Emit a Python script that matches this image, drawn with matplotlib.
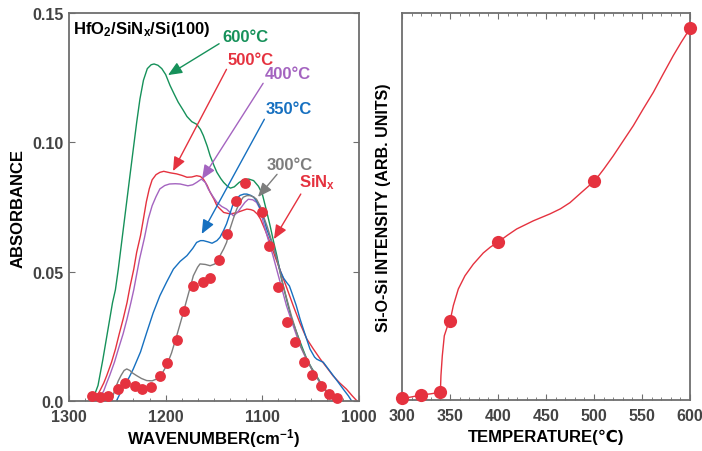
import matplotlib
matplotlib.use('Agg')
import matplotlib.pyplot as plt
from matplotlib.ticker import MultipleLocator, AutoMinorLocator

plt.rcParams['font.family'] = ['Liberation Sans', 'DejaVu Sans']
plt.rcParams['font.weight'] = 'bold'
plt.rcParams['axes.labelweight'] = 'bold'
plt.rcParams['mathtext.fontset'] = 'custom'
plt.rcParams['mathtext.rm'] = 'Liberation Sans:bold'
plt.rcParams['mathtext.it'] = 'Liberation Sans:bold'
plt.rcParams['mathtext.bf'] = 'Liberation Sans:bold'

# --- left panel: FTIR spectra (wavenumber, absorbance) ---
w600 = [1277, 1274, 1270, 1265, 1260, 1255, 1252, 1249, 1246, 1243, 1240, 1237, 1233.5, 1230,
        1226.6, 1223, 1219, 1215, 1212, 1208, 1204, 1200, 1195.5, 1191, 1187, 1182, 1178, 1173,
        1168, 1164, 1161, 1157, 1154, 1150, 1147, 1143, 1140, 1136, 1133, 1129, 1124, 1119, 1114,
        1109, 1104, 1100, 1096, 1092, 1088, 1085, 1080, 1075, 1070, 1064.5, 1059, 1054, 1049, 1044,
        1038, 1033, 1026]
a600 = [0.0, 0.002, 0.006, 0.016, 0.027, 0.038, 0.043, 0.051, 0.060, 0.069, 0.078, 0.087, 0.0974,
        0.1077, 0.1168, 0.1240, 0.1285, 0.1300, 0.1303, 0.1298, 0.1285, 0.1262, 0.122, 0.1185,
        0.1155, 0.1125, 0.110, 0.108, 0.107, 0.105, 0.1026, 0.0985, 0.0948, 0.091, 0.0884, 0.086,
        0.0845, 0.083, 0.0823, 0.0828, 0.0845, 0.0856, 0.0858, 0.0852, 0.083, 0.080, 0.074, 0.0678,
        0.061, 0.0562, 0.047, 0.0394, 0.032, 0.0265, 0.021, 0.0162, 0.0128, 0.0098, 0.006, 0.0034,
        0.0]

w500 = [1275, 1271, 1268, 1264, 1261, 1256, 1252, 1248, 1244, 1240, 1237, 1233, 1230, 1226, 1223,
        1220, 1217, 1214, 1210, 1206, 1202, 1195, 1188.6, 1183, 1178, 1173, 1168, 1164, 1161, 1157,
        1154, 1150, 1147, 1143, 1140, 1133, 1126, 1120, 1116, 1112, 1109, 1105, 1102, 1097, 1092,
        1087, 1082, 1075, 1068, 1061, 1054, 1047, 1040, 1033, 1027, 1020, 1013, 1007, 1002]
a500 = [0.0, 0.002, 0.004, 0.007, 0.0098, 0.015, 0.020, 0.026, 0.0317, 0.038, 0.044, 0.051,
        0.0575, 0.064, 0.0704, 0.077, 0.082, 0.0855, 0.0875, 0.0884, 0.0888, 0.0882, 0.0878,
        0.0872, 0.0865, 0.0866, 0.0871, 0.0868, 0.0858, 0.0833, 0.0807, 0.078, 0.0755, 0.074,
        0.0729, 0.0723, 0.0729, 0.0737, 0.0742, 0.0740, 0.0736, 0.0722, 0.0704, 0.066, 0.0613,
        0.056, 0.051, 0.044, 0.0368, 0.030, 0.024, 0.020, 0.0162, 0.0128, 0.0098, 0.007, 0.0046,
        0.002, 0.0]

w400 = [1271, 1267, 1264, 1261, 1258, 1253, 1249, 1244, 1240, 1236, 1233, 1230, 1227, 1222, 1218,
        1214, 1210, 1206, 1201, 1196, 1190, 1185, 1177, 1172, 1168, 1163, 1159, 1156, 1151, 1147,
        1142, 1137, 1133, 1130, 1126, 1122, 1118, 1114.5, 1110, 1106, 1102, 1099, 1094, 1089, 1082,
        1075, 1068, 1061, 1054, 1047, 1040, 1033, 1026]
a400 = [0.0, 0.002, 0.004, 0.007, 0.0098, 0.015, 0.020, 0.026, 0.0317, 0.038, 0.043, 0.049,
        0.0549, 0.063, 0.0704, 0.0755, 0.079, 0.082, 0.0833, 0.0839, 0.0840, 0.0839, 0.0832,
        0.0836, 0.0845, 0.0858, 0.0845, 0.082, 0.079, 0.0768, 0.0752, 0.0742, 0.0728, 0.0716,
        0.0728, 0.0748, 0.0768, 0.078, 0.0778, 0.0768, 0.074, 0.069, 0.0625, 0.0562, 0.0465,
        0.0368, 0.029, 0.0214, 0.0158, 0.0111, 0.0068, 0.0034, 0.0]

w350 = [1251, 1247, 1243, 1238, 1233.5, 1226, 1219.6, 1213, 1206, 1199, 1192, 1185, 1178, 1172,
        1168, 1164, 1161, 1156, 1152, 1147, 1143.8, 1140, 1137, 1133, 1130, 1126, 1123, 1119, 1116,
        1112, 1109, 1105, 1102, 1098, 1095.5, 1092, 1088.7, 1085, 1081.7, 1078, 1075, 1072, 1069.6,
        1065, 1061, 1056, 1050.7, 1046, 1043.8, 1040, 1037, 1032, 1026.6, 1021, 1016.3, 1011, 1007.6]
a350 = [0.0, 0.003, 0.006, 0.009, 0.0124, 0.019, 0.0265, 0.034, 0.0407, 0.046, 0.051, 0.054,
        0.0562, 0.059, 0.0613, 0.0620, 0.062, 0.0615, 0.061, 0.062, 0.0633, 0.066, 0.0685, 0.073,
        0.0765, 0.0785, 0.0795, 0.0800, 0.0800, 0.0795, 0.0788, 0.0768, 0.0742, 0.070, 0.0665,
        0.063, 0.060, 0.055, 0.0505, 0.0475, 0.0459, 0.0445, 0.042, 0.037, 0.0317, 0.026, 0.0201,
        0.017, 0.0162, 0.0155, 0.015, 0.0125, 0.0098, 0.007, 0.0046, 0.002, 0.0]

w300 = [1256, 1252.4, 1249, 1246, 1243, 1240.3, 1237, 1235, 1230, 1225, 1219.6, 1214, 1209.3,
        1204, 1199, 1194, 1188.6, 1183, 1178, 1174, 1171.4, 1167, 1164.5, 1159, 1154, 1149, 1143.8,
        1140, 1137, 1133.5, 1130, 1126.5, 1123, 1119.7, 1116, 1112.8, 1109, 1106, 1102, 1099, 1095,
        1092, 1088, 1085, 1078, 1070, 1060, 1050, 1040, 1030, 1024]
a300 = [0.0, 0.0046, 0.0078, 0.010, 0.0118, 0.0124, 0.0118, 0.011, 0.0098, 0.0087, 0.0079,
        0.0078, 0.0085, 0.0105, 0.0137, 0.0185, 0.0252, 0.0325, 0.0394, 0.0448, 0.0484, 0.0517,
        0.053, 0.0528, 0.0523, 0.053, 0.0562, 0.0588, 0.0613, 0.0665, 0.0705, 0.0742, 0.077,
        0.0788, 0.0794, 0.0794, 0.0789, 0.078, 0.0752, 0.0716, 0.0675, 0.0639, 0.059, 0.055,
        0.044, 0.033, 0.021, 0.013, 0.007, 0.002, 0.0]

sinx_w = [1276.6, 1268, 1259.3, 1249, 1242, 1231.7, 1224.8, 1215.2, 1205.9, 1198.3, 1188.6,
          1180.7, 1171.4, 1161.7, 1154, 1144.5, 1137, 1127.3, 1118, 1100.7, 1092.8, 1083.5,
          1074.2, 1066.2, 1057, 1049, 1039.6, 1030.7, 1022.5]
sinx_a = [0.002, 0.0014, 0.0018, 0.0046, 0.007, 0.0059, 0.0046, 0.0053, 0.0095, 0.0146, 0.0237,
          0.0349, 0.0446, 0.0459, 0.0476, 0.0546, 0.0646, 0.0772, 0.0842, 0.0732, 0.0598, 0.044,
          0.0304, 0.0229, 0.015, 0.010, 0.0057, 0.0027, 0.001]

# --- right panel: Si-O-Si intensity vs anneal temperature ---
temp = [300, 320, 340, 350, 400, 500, 600]
intensity = [0.004, 0.013, 0.02, 0.203, 0.408, 0.567, 0.96]
# guide line
curve_t = [300, 310, 320, 330, 340, 340.6, 342, 344.1, 347, 350, 353.5, 358.7, 365.6, 374.3,
           384.7, 392, 400, 410, 419.5, 436.8, 454.2, 465, 475, 487.2, 495, 501, 510, 520.1, 530,
           541, 551, 561.8, 572, 582.6, 591, 600]
curve_v = [0.004, 0.008, 0.013, 0.016, 0.02, 0.063, 0.114, 0.166, 0.188, 0.203, 0.244, 0.287,
           0.321, 0.351, 0.38, 0.395, 0.408, 0.426, 0.442, 0.463, 0.481, 0.494, 0.51, 0.537, 0.554,
           0.567, 0.596, 0.631, 0.668, 0.709, 0.751, 0.795, 0.842, 0.89, 0.925, 0.96]

GREEN = '#16915a'
RED = '#e5323f'
PURPLE = '#a464c0'
BLUE = '#1670c0'
GREY = '#7d7d7d'
SPINE = '#6e6e6e'
TICKLBL = '#444444'

fig = plt.figure(figsize=(7.02, 4.52), dpi=100)

# Left panel
ax1 = fig.add_axes([0.0983, 0.1106, 0.4131, 0.8584])
lw = 1.0
ax1.plot(w600, a600, color=GREEN, lw=lw)
ax1.plot(w500, a500, color=RED, lw=lw)
ax1.plot(w400, a400, color=PURPLE, lw=lw)
ax1.plot(w350, a350, color=BLUE, lw=lw)
ax1.plot(w300, a300, color=GREY, lw=lw)
ax1.plot(sinx_w, sinx_a, 'o', color=RED, ms=7.8, mec='none', clip_on=False, zorder=5)

ax1.set_xlim(1300, 1000)
ax1.set_ylim(0, 0.15)
ax1.set_xticks([1300, 1200, 1100, 1000])
ax1.xaxis.set_minor_locator(AutoMinorLocator(6))
ax1.set_yticks([0, 0.05, 0.10, 0.15])
ax1.set_yticklabels(['0.0', '0.05', '0.10', '0.15'])
ax1.tick_params(which='both', direction='in', right=True, top=False,
                color=SPINE, labelcolor=TICKLBL, labelsize=11.5)
ax1.tick_params(axis='x', which='major', length=4, pad=6)
ax1.tick_params(axis='x', which='minor', length=2.5)
ax1.tick_params(axis='y', length=4, pad=4)
ax1.set_xlabel('WAVENUMBER(cm$^{-1}$)', fontsize=12, labelpad=1)
ax1.set_ylabel('ABSORBANCE', fontsize=12, labelpad=5)

ax1.text(0.015, 0.985, 'HfO$_2$/SiN$_x$/Si(100)', transform=ax1.transAxes,
         ha='left', va='top', fontsize=12, color='black')

# Labels with arrows
def _label(text, xy, xytext, color, relpos):
    ax1.annotate(text, xy=xy, xytext=xytext, ha='center', va='center',
                 fontsize=12, color=color,
                 arrowprops=dict(arrowstyle='-|>,head_length=0.7,head_width=0.3',
                                 color=color, lw=1.0, shrinkA=0, shrinkB=0, relpos=relpos))

_label('600°C', (1197.6, 0.126), (1118, 0.1411), GREEN, (0, 0.1))
_label('500°C', (1192.4, 0.0889), (1111.7, 0.1322), RED, (0, 0))
_label('400°C', (1162.4, 0.0858), (1073.5, 0.1268), PURPLE, (0, 0))
_label('350°C', (1162.7, 0.0646), (1072.4, 0.1129), BLUE, (0, 0))
_label('300°C', (1104.5, 0.0789), (1071.4, 0.0916), GREY, (0.27, 0))
_label('SiN$_x$', (1088, 0.0626), (1043.5, 0.0847), RED, (0.1, 0))

# Right panel
ax2 = fig.add_axes([0.5726, 0.1128, 0.4103, 0.8562])
ax2.plot(curve_t, curve_v, color=RED, lw=1.0)
ax2.plot(temp, intensity, 'o', color=RED, ms=9.5, mec='none', clip_on=False, zorder=5)
ax2.set_xlim(300, 600)
ax2.set_ylim(0, 1)
ax2.xaxis.set_major_locator(MultipleLocator(50))
ax2.xaxis.set_minor_locator(MultipleLocator(10))
ax2.set_yticks([])
ax2.tick_params(which='both', direction='in', top=True,
                color=SPINE, labelcolor=TICKLBL, labelsize=11.5)
ax2.tick_params(axis='x', which='major', length=4, pad=6)
ax2.tick_params(axis='x', which='minor', length=2.5)
ax2.set_xlabel('TEMPERATURE(℃)', fontsize=12, labelpad=4)
ax2.set_ylabel('Si-O-Si INTENSITY (ARB. UNITS)', fontsize=11.5, labelpad=8)

for ax in (ax1, ax2):
    for sp in ax.spines.values():
        sp.set_color(SPINE)
        sp.set_linewidth(1.3)

fig.savefig('out.png', dpi=100)
